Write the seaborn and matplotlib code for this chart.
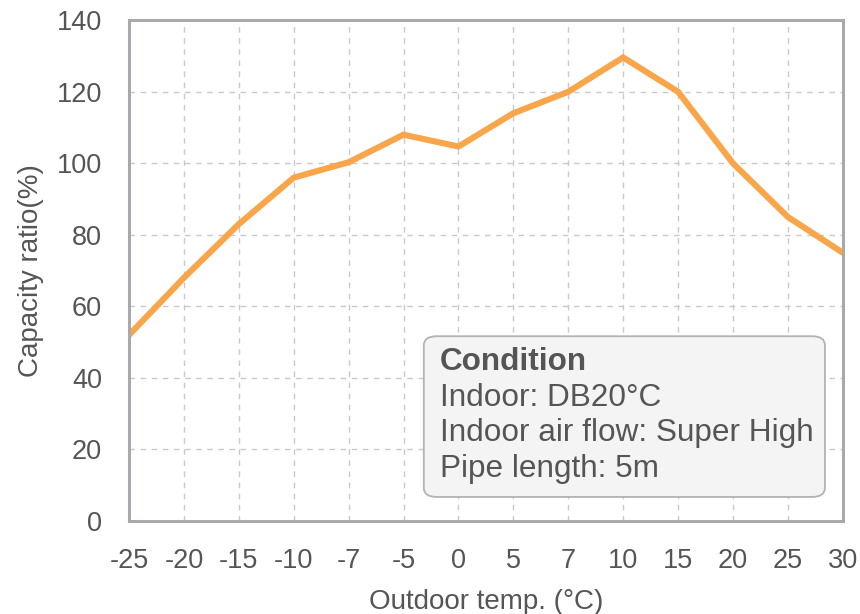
import matplotlib
matplotlib.use("Agg")
import matplotlib.pyplot as plt
import pandas as pd
import seaborn as sns
from matplotlib.patches import FancyBboxPatch

# outdoor temps (equally spaced categories) and capacity ratio (%)
temps = ["-25", "-20", "-15", "-10", "-7", "-5", "0", "5", "7", "10", "15", "20", "25", "30"]
ratio = [52, 68, 83, 96, 100.3, 108, 104.7, 114, 120, 129.6, 120, 100, 85, 75]
y_ticks = [0, 20, 40, 60, 80, 100, 120, 140]
cond_lines = ["Indoor: DB20°C", "Indoor air flow: Super High", "Pipe length: 5m"]

sns.set_style("white")
plt.rcParams["font.family"] = ["Liberation Sans", "DejaVu Sans"]

spine_c = "#a7a9ac"
text_c = "#555555"

df = pd.DataFrame({"temp": temps, "ratio": ratio})

fig = plt.figure(figsize=(8.6, 6.14), dpi=100)
ax = fig.add_axes([0.150, 0.1515, 0.830, 0.8155])

sns.lineplot(data=df, x="temp", y="ratio", ax=ax, color="#f9a54a", linewidth=4.4,
             solid_joinstyle="miter", sort=False)

ax.set_xlim(0, len(temps) - 1)
ax.set_ylim(0, 140)
ax.set_yticks(y_ticks)
ax.set_xticks(range(len(temps)))
ax.set_xticklabels(temps)

ax.grid(True, linestyle=(0, (4, 4)), color="#c9c9c9", linewidth=1)
ax.set_axisbelow(True)
for s in ax.spines.values():
    s.set_color(spine_c)
    s.set_linewidth(2.2)

ax.tick_params(axis="both", direction="out", length=7.5, width=2.2, color=spine_c,
               labelsize=19.5, labelcolor=text_c)
ax.tick_params(axis="y", pad=12)
ax.tick_params(axis="x", pad=12)

ax.set_xlabel("Outdoor temp. (°C)", fontsize=20, color=text_c, labelpad=11)
ax.set_ylabel("Capacity ratio(%)", fontsize=20, color=text_c, labelpad=9)

box = FancyBboxPatch((0.413, 0.048), 0.562, 0.321, transform=ax.transAxes,
                     boxstyle="round,pad=0,rounding_size=0.018",
                     facecolor="#f4f4f4", edgecolor="#b3b3b3", linewidth=1.3, zorder=5)
ax.add_patch(box)
ax.text(0.436, 0.318, "Condition", transform=ax.transAxes, fontsize=22.7,
        fontweight="bold", color=text_c, va="center", zorder=6)
for i, line in enumerate(cond_lines):
    ax.text(0.436, 0.246 - i * 0.071, line, transform=ax.transAxes, fontsize=22.7,
            color=text_c, va="center", zorder=6)

fig.savefig("out.png", dpi=100)
